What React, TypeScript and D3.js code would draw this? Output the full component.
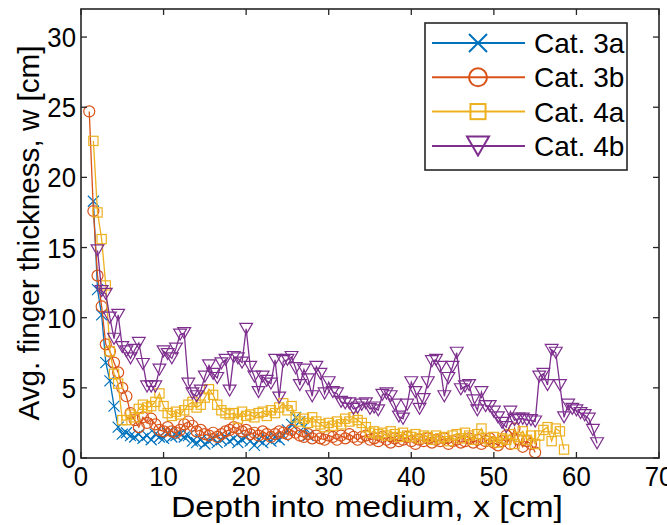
import React from 'react';
import * as d3 from 'd3';

const depth = [1,1.5,2,2.5,3,3.5,4,4.5,5,5.5,6,6.5,7,7.5,8,8.5,9,9.5,10,10.5,11,11.5,12,12.5,13,13.5,14,14.5,15,15.5,16,16.5,17,17.5,18,18.5,19,19.5,20,20.5,21,21.5,22,22.5,23,23.5,24,24.5,25,25.5,26,26.5,27,27.5,28,28.5,29,29.5,30,30.5,31,31.5,32,32.5,33,33.5,34,34.5,35,35.5,36,36.5,37,37.5,38,38.5,39,39.5,40,40.5,41,41.5,42,42.5,43,43.5,44,44.5,45,45.5,46,46.5,47,47.5,48,48.5,49,49.5,50,50.5,51,51.5,52,52.5,53,53.5,54,54.5,55,55.5,56,56.5,57,57.5,58,58.5,59,59.5,60,60.5,61,61.5,62,62.5];

const cat3a: (number | null)[] = [null,
  18.3,12.0,10.2,6.8,5.5,3.7,2.2,1.7,1.8,1.6,
  1.5,1.7,1.4,1.6,1.3,1.7,1.5,1.4,1.8,1.5,
  1.6,1.7,1.5,1.6,1.2,1.1,1.3,1.0,1.2,1.4,
  1.1,1.3,1.5,1.2,1.4,1.1,1.3,1.5,1.2,0.9,
  1.3,1.1,1.4,1.2,1.5,1.3,1.6,2.0,2.4,2.9,
  2.6,2.2,1.6];

const cat3b: (number | null)[] = [
  24.7,17.6,13.0,10.8,8.1,7.6,6.8,6.1,5.0,4.4,
  3.2,2.7,2.2,2.9,2.5,2.8,2.4,2.0,1.9,2.2,
  1.9,1.8,2.0,2.4,2.6,2.3,1.9,2.0,1.7,1.6,
  1.8,1.5,1.7,1.9,2.0,2.2,2.1,1.9,2.0,1.7,
  1.8,1.6,1.9,1.7,1.5,1.7,1.9,1.8,1.7,2.0,
  1.8,1.6,1.5,1.7,1.4,1.6,1.4,1.3,1.6,1.5,
  1.3,1.6,1.4,1.7,1.5,1.3,1.5,1.6,1.3,1.4,
  1.2,1.5,1.3,1.1,1.4,1.2,1.3,1.5,1.2,1.0,
  1.3,1.2,1.4,1.1,1.3,1.2,1.4,1.0,1.2,1.3,
  1.1,1.2,1.4,1.1,1.3,1.0,1.2,1.4,1.1,0.9,
  1.2,1.6,1.0,2.1,1.3,0.8,1.2,1.0,0.4];

const cat4a: (number | null)[] = [null,
  22.6,17.5,15.6,12.3,7.6,6.0,5.3,2.7,2.7,3.1,
  2.9,3.5,3.8,3.6,3.7,4.0,4.6,3.7,3.2,3.0,
  3.3,3.1,3.4,3.8,4.0,3.6,3.8,4.3,4.9,4.5,
  3.8,3.4,3.2,3.1,3.2,2.8,3.3,3.0,3.1,2.9,
  3.2,3.3,3.0,3.4,3.2,3.6,3.9,3.4,3.7,2.9,
  2.6,2.8,2.5,2.9,2.6,2.4,2.2,2.5,2.3,2.6,
  2.4,2.8,2.6,2.9,2.7,2.5,2.2,1.8,1.9,1.7,
  1.8,1.6,1.9,1.7,1.5,1.8,1.6,1.5,1.7,1.4,
  1.6,1.5,1.3,1.6,1.4,1.5,1.2,1.6,1.7,1.4,
  1.8,1.6,1.3,1.7,2.1,1.4,1.2,1.5,1.1,1.4,
  1.3,1.7,1.0,1.5,1.9,1.3,1.6,1.0,1.6,2.0,
  2.2,1.2,2.1,1.9,0.6];

const cat4b: (number | null)[] = [null, null,
  14.8,11.9,11.7,10.0,8.5,10.2,7.9,7.6,7.1,7.7,
  8.2,6.7,5.1,5.1,5.1,6.3,7.6,7.4,7.1,7.8,
  8.8,8.9,5.3,4.6,4.4,4.8,5.8,6.6,6.0,5.7,
  6.75,7.0,4.8,7.2,7.1,6.8,9.2,6.5,5.8,4.7,
  5.8,5.5,5.3,7.0,4.3,6.9,7.0,7.2,6.4,5.2,
  6.3,5.6,4.4,6.5,6.0,4.6,5.4,4.7,4.6,4.0,
  3.9,3.9,3.5,3.6,3.8,3.9,3.5,3.6,3.4,4.5,
  4.6,4.4,3.8,2.95,2.8,3.8,5.4,4.7,3.5,4.2,
  5.4,6.9,7.0,6.5,4.4,5.7,6.5,7.5,4.9,5.1,
  5.2,4.1,3.4,4.7,3.7,3.7,3.3,2.9,2.5,2.2,
  3.3,2.7,2.8,2.8,2.7,2.7,2.6,5.8,6.0,5.2,
  7.7,7.5,5.2,2.9,3.8,3.5,3.4,3.2,3.05,2.8,
  2.0,1.05];

const seriesNames = ['Cat. 3a', 'Cat. 3b', 'Cat. 4a', 'Cat. 4b'];
const seriesValues = [cat3a, cat3b, cat4a, cat4b];
const seriesColors = ['#0072BD', '#D95319', '#EDB120', '#7E2F8E'];
const seriesMarkers = ['x', 'o', 's', 'v'];

const xTicks = [0, 10, 20, 30, 40, 50, 60, 70];
const yTicks = [0, 5, 10, 15, 20, 25, 30];

const W = 667, H = 525;
const L = 81, R = 659, T = 9, B = 458;
const FONT = '"Liberation Sans", Arial, Helvetica, sans-serif';
const AX = '#262626';

function Marker({ type, cx, cy, color, s, sw }: { type: string; cx: number; cy: number; color: string; s: number; sw: number }) {
  if (type === 'o') return <circle cx={cx} cy={cy} r={s / 2} fill="none" stroke={color} strokeWidth={sw} />;
  if (type === 's') return <rect x={cx - s * 0.42} y={cy - s * 0.42} width={s * 0.84} height={s * 0.84} fill="none" stroke={color} strokeWidth={sw} />;
  if (type === 'x') {
    const h = s / 2;
    return <path d={`M${cx - h},${cy - h}L${cx + h},${cy + h}M${cx - h},${cy + h}L${cx + h},${cy - h}`} stroke={color} strokeWidth={sw} fill="none" />;
  }
  const w = s * 0.58, h = s * 0.5;
  return <path d={`M${cx - w},${cy - h}L${cx + w},${cy - h}L${cx},${cy + h}Z`} fill="none" stroke={color} strokeWidth={sw} strokeLinejoin="miter" />;
}

export default function App() {
  const x = d3.scaleLinear().domain([0, 70]).range([L, R]);
  const y = d3.scaleLinear().domain([0, 32]).range([B, T]);
  const line = d3.line<[number, number | null]>()
    .defined(d => d[1] != null)
    .x(d => x(d[0]))
    .y(d => y(d[1] as number));

  const legY0 = 43, legDy = 34.3;

  return (
    <svg width={W} height={H} style={{ position: 'absolute', left: 0, top: 0, background: '#fff' }} fontFamily={FONT}>
      <rect x={0} y={0} width={W} height={H} fill="#fff" />
      {seriesValues.map((vals, si) => {
        const pts: [number, number | null][] = vals.map((v, i) => [depth[i], v]);
        const c = seriesColors[si];
        return (
          <g key={si}>
            <path d={line(pts) || ''} fill="none" stroke={c} strokeWidth={1.3} />
            {pts.filter(p => p[1] != null).map((p, i) => (
              <Marker key={i} type={seriesMarkers[si]} cx={x(p[0])} cy={y(p[1] as number)} color={c} s={11} sw={1.2} />
            ))}
          </g>
        );
      })}
      {/* axes box */}
      <rect x={L} y={T} width={R - L} height={B - T} fill="none" stroke={AX} strokeWidth={1.6} />
      {xTicks.map(t => (
        <g key={'xt' + t}>
          <line x1={x(t)} x2={x(t)} y1={B} y2={B - 6} stroke={AX} strokeWidth={1.3} />
          <line x1={x(t)} x2={x(t)} y1={T} y2={T + 6} stroke={AX} strokeWidth={1.3} />
          <text transform={`translate(${x(t)},486) scale(0.92,1)`} textAnchor="middle" fontSize={28} fill="#000">{t}</text>
        </g>
      ))}
      {yTicks.map(t => (
        <g key={'yt' + t}>
          <line x1={L} x2={L + 6} y1={y(t)} y2={y(t)} stroke={AX} strokeWidth={1.3} />
          <line x1={R} x2={R - 6} y1={y(t)} y2={y(t)} stroke={AX} strokeWidth={1.3} />
          <text transform={`translate(76,${y(t) + 10}) scale(0.92,1)`} textAnchor="end" fontSize={28} fill="#000">{t}</text>
        </g>
      ))}
      <text x={367} y={517} textAnchor="middle" fontSize={29} fill="#000" textLength={392} lengthAdjust="spacingAndGlyphs">Depth into medium, x [cm]</text>
      <text transform="translate(39,233) rotate(-90)" textAnchor="middle" fontSize={30} fill="#000" textLength={375} lengthAdjust="spacingAndGlyphs">Avg. finger thickness, w [cm]</text>
      {/* legend */}
      <rect x={425} y={23} width={202} height={147} fill="#fff" stroke={AX} strokeWidth={1.6} />
      {seriesNames.map((n, i) => {
        const ly = legY0 + i * legDy;
        const c = seriesColors[i];
        return (
          <g key={'lg' + i}>
            <line x1={432} x2={525} y1={ly} y2={ly} stroke={c} strokeWidth={2} />
            <Marker type={seriesMarkers[i]} cx={478} cy={ly} color={c} s={seriesMarkers[i] === 'v' ? 19 : 18} sw={2} />
            <text x={534} y={ly + 10} fontSize={28} fill="#000">{n}</text>
          </g>
        );
      })}
    </svg>
  );
}
